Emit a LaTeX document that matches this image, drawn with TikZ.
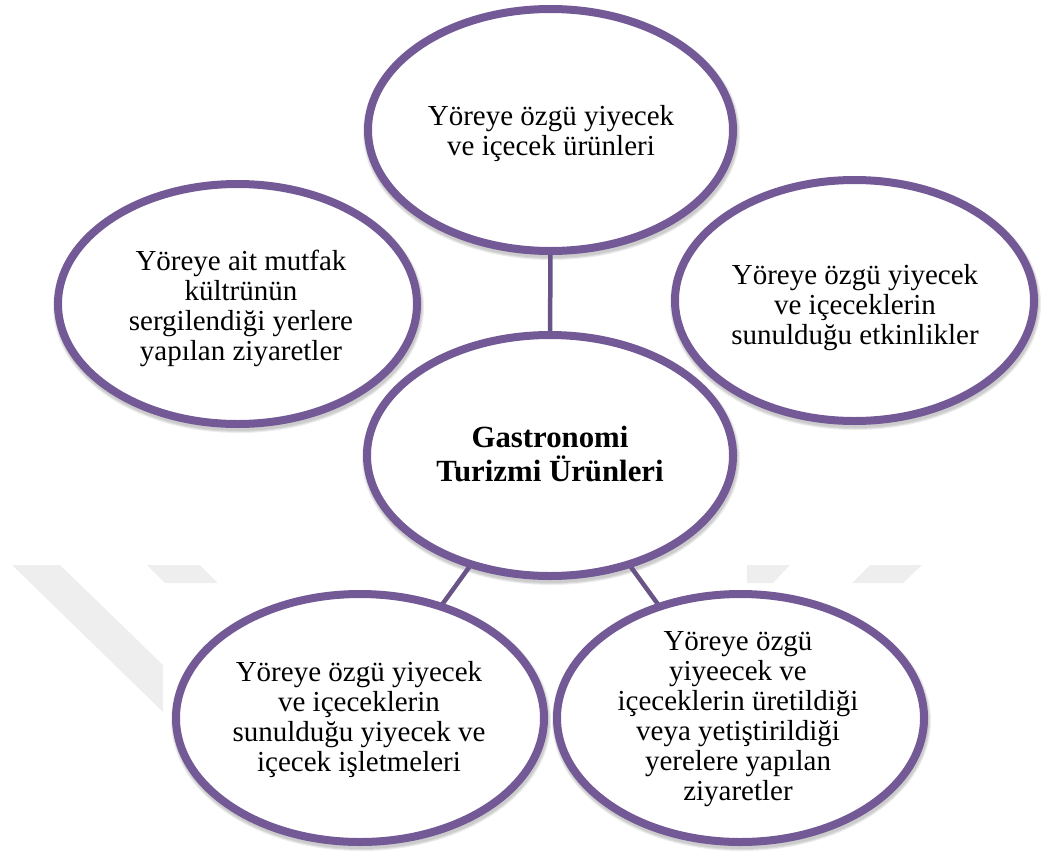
\documentclass[tikz,border=0pt]{standalone}
\usepackage{fontspec}
\setmainfont{Liberation Serif}
\usetikzlibrary{shapes.geometric}
\definecolor{ringpurple}{RGB}{115,90,150}
\definecolor{linkpurple}{RGB}{104,84,134}
\definecolor{markgray}{RGB}{238,238,238}
\pgfdeclarelayer{back}
\pgfdeclarelayer{shade}
\pgfdeclarelayer{links}
\pgfsetlayers{back,shade,links,main}
\tikzset{
  bubble/.style={ellipse, draw=ringpurple, line width=8pt, fill=white,
                 inner sep=0pt, outer sep=0pt},
  txt/.style={align=center, inner sep=0pt, font=\fontsize{29}{30}\selectfont},
  boldtxt/.style={align=center, inner sep=0pt, font=\fontsize{30.8}{34}\selectfont\bfseries},
  link/.style={draw=linkpurple, line width=4.5pt},
  softshade/.style={draw=black, line width=#1, opacity=0.07}
}
% soft shadow below an ellipse: centre, x radius, y radius
\newcommand\ringshadow[3]{%
  \foreach \w in {8,10,12}{%
    \draw[softshade=\w pt] ([xshift=1pt,yshift=-3pt]#1) ellipse [x radius=#2, y radius=#3];}}
\begin{document}
\begin{tikzpicture}[x=1pt,y=-1pt]
\useasboundingbox (0,0) rectangle (1041,854);

% faint chevron bands in the background
\begin{pgfonlayer}{back}
  \fill[markgray] (12,565) -- (60,565) -- (163,665) -- (163,712) -- cycle;
  \fill[markgray] (147,565) -- (200,565) -- (218,583) -- (165,583) -- cycle;
  \fill[markgray] (747,565) -- (790,565) -- (773,583) -- (747,583) -- cycle;
  \fill[markgray] (870,565) -- (922,565) -- (903,583) -- (852,583) -- cycle;
\end{pgfonlayer}

% outer ellipses
\node[bubble, minimum width=359pt, minimum height=240pt] (eleft)  at (237.5,304) {};
\node[bubble, minimum width=359pt, minimum height=241pt] (eright) at (854.5,300.5) {};
\node[bubble, minimum width=365pt, minimum height=242pt] (etop)   at (550.5,130) {};
\node[bubble, minimum width=368pt, minimum height=248pt] (ebl)    at (360,718) {};
\node[bubble, minimum width=367pt, minimum height=248pt] (ebr)    at (740.5,718) {};
% central ellipse, above its neighbours
\node[bubble, minimum width=366pt, minimum height=241pt] (ecen)   at (550,455.5) {};

% shadows under the rings
\begin{pgfonlayer}{shade}
  \ringshadow{eleft.center}{179.5}{120}
  \ringshadow{eright.center}{179.5}{120.5}
  \ringshadow{etop.center}{182.5}{121}
  \ringshadow{ebl.center}{184}{124}
  \ringshadow{ebr.center}{183.5}{124}
  \ringshadow{ecen.center}{183}{120.5}
\end{pgfonlayer}

% texts
\node[txt] (ttop) at (551,133.7) {Yöreye özgü yiyecek\\ve içecek ürünleri};
\node[txt] (tleft) at (241,308.8) {Yöreye ait mutfak\\kültrünün\\sergilendiği yerlere\\yapılan ziyaretler};
\node[txt] (tright) at (855,307.7) {Yöreye özgü yiyecek\\ve içeceklerin\\sunulduğu etkinlikler};
\node[boldtxt] (tcen) at (550,454.4) {Gastronomi\\Turizmi Ürünleri};
\node[txt] (tbl) at (359,719.4) {Yöreye özgü yiyecek\\ve içeceklerin\\sunulduğu yiyecek ve\\içecek işletmeleri};
\node[txt] (tbr) at (738,719) {Yöreye özgü\\yiyeecek ve\\içeceklerin üretildiği\\veya yetiştirildiği\\yerelere yapılan\\ziyaretler};

% connectors from the centre
\begin{pgfonlayer}{links}
  \draw[link] (ecen.center) -- (etop.center);
  \draw[link] (ecen.center) -- (ebl.center);
  \draw[link] (ecen.center) -- (ebr.center);
\end{pgfonlayer}
\end{tikzpicture}
\end{document}
